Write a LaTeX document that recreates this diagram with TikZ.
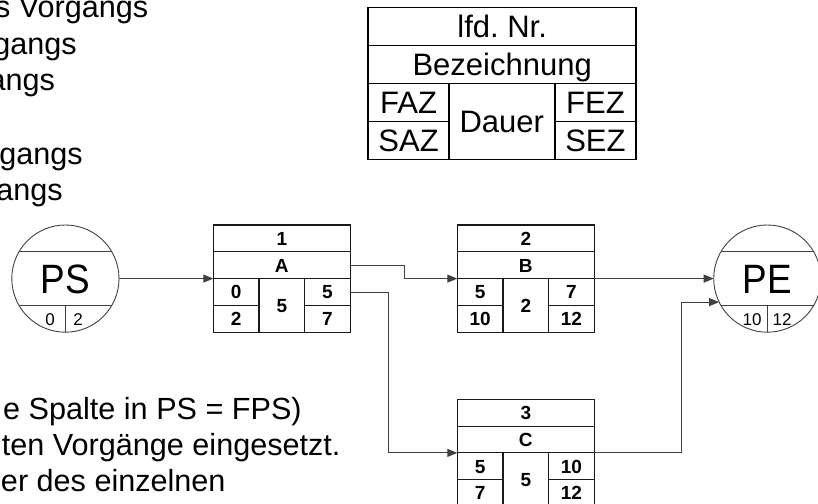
\documentclass[tikz,border=0pt]{standalone}
\usepackage{fontspec}
\setmainfont{Liberation Sans}
\newfontfamily\bigfont{Liberation Sans}[FakeStretch=0.9]
\usetikzlibrary{arrows.meta,calc}
\newcommand{\vgbox}[9]{%
  \node[cell, minimum width=137pt, anchor=north west] (#1-nr) at (#2) {#3};
  \node[cell, minimum width=137pt, anchor=north west] (#1-bez) at (#1-nr.south west) {#4};
  \node[cell, minimum width=45.67pt, anchor=north west] (#1-faz) at (#1-bez.south west) {#5};
  \node[cell, minimum width=45.67pt, minimum height=53.6pt, anchor=north west] (#1-dauer) at (#1-faz.north east) {#6};
  \node[cell, minimum width=45.67pt, anchor=north west] (#1-fez) at (#1-dauer.north east) {#7};
  \node[cell, minimum width=45.67pt, anchor=north west] (#1-saz) at (#1-faz.south west) {#8};
  \node[cell, minimum width=45.67pt, anchor=north west] (#1-sez) at (#1-fez.south west) {#9};
}
\begin{document}
\frenchspacing
\begin{tikzpicture}[x=1pt,y=-1pt,
  txt/.style={font=\fontsize{30.6}{36.8}\selectfont, inner sep=0, outer sep=0, anchor=base east},
  txtl/.style={font=\fontsize{30.6}{36.8}\selectfont, inner sep=0, outer sep=0, anchor=base west},
  cell/.style={draw=black!90, line width=1.1pt, inner sep=0, outer sep=0,
    font=\fontsize{19}{21}\selectfont\bfseries, text height=13.6pt, text depth=0pt,
    minimum height=26.8pt},
  leg/.style={draw=black, line width=1.9pt, inner sep=0, outer sep=0,
    font=\fontsize{31}{34}\selectfont, text height=22.2pt, text depth=0pt,
    minimum height=38pt},
  conn/.style={draw=black!75, line width=0.9pt, -{Triangle[length=10pt,width=8pt]}},
  ring/.style={circle, draw=black!75, line width=0.9pt, minimum size=107.2pt,
    inner sep=0, outer sep=0},
  ringline/.style={draw=black!75, line width=0.9pt},
  big/.style={font=\bigfont\fontsize{41}{44}\selectfont, inner sep=0, text height=29.4pt, text depth=0pt},
  small/.style={font=\fontsize{17}{19}\selectfont, inner sep=0, text height=12.2pt, text depth=0pt}
]
\useasboundingbox (0,0) rectangle (818,503);
\clip (0,0) rectangle (818,503);

% left text fragments
\node[txt] (t1) at (148.3,18) {s Vorgangs};
\node[txt] (t2) at (76.7,54.5) {gangs};
\node[txt] (t3) at (55,90.5) {angs};
\node[txt] (t5) at (82.7,164) {gangs};
\node[txt] (t6) at (62.7,200.5) {angs};
\node[txt] (t7) at (301.7,419.5) {e Spalte in PS = FPS)};
\node[txt] (t8) at (340.5,455.5) {ten Vorgänge eingesetzt.};
\node[txtl] (t9) at (1,491.5) {er des einzelnen};

% legend
\node[leg, minimum width=267.7pt, anchor=north west] (L-nr) at (368.3,7.5) {lfd. Nr.};
\node[leg, minimum width=267.7pt, anchor=north west] (L-bez) at (L-nr.south west) {Bezeichnung};
\node[leg, minimum width=80.5pt, anchor=north west] (L-faz) at (L-bez.south west) {FAZ};
\node[leg, minimum width=106pt, minimum height=76pt, anchor=north west] (L-dauer) at (L-faz.north east) {Dauer};
\node[leg, minimum width=81.2pt, anchor=north west] (L-fez) at (L-dauer.north east) {FEZ};
\node[leg, minimum width=80.5pt, anchor=north west] (L-saz) at (L-faz.south west) {SAZ};
\node[leg, minimum width=81.2pt, anchor=north west] (L-sez) at (L-fez.south west) {SEZ};

% activity boxes
\vgbox{A}{213.3,225}{1}{A}{0}{5}{5}{2}{7}
\vgbox{B}{457.3,225}{2}{B}{5}{2}{7}{10}{12}
\vgbox{C}{457.3,399.3}{3}{C}{5}{5}{10}{7}{12}

% start and end events
\node[ring] (PS) at (65.4,278.6) {};
\draw[ringline] (PS.150) -- (PS.30);
\draw[ringline] (PS.210) -- (PS.-30);
\draw[ringline] (PS.south |- PS.-30) -- (PS.south);
\node[big] (PS-l) at (65.4,278.6) {PS};
\node[small] (PS-a) at (50,319) {0};
\node[small] (PS-b) at (78,319) {2};

\node[ring] (PE) at (767.3,278.6) {};
\draw[ringline] (PE.150) -- (PE.30);
\draw[ringline] (PE.210) -- (PE.-30);
\draw[ringline] (PE.south |- PE.-30) -- (PE.south);
\node[big] (PE-l) at (767.3,278.6) {PE};
\node[small] (PE-a) at (752,319) {10};
\node[small] (PE-b) at (782,319) {12};

% connectors
\coordinate (jAB) at (404.3,0);
\coordinate (jAC) at (388.3,0);
\coordinate (jCP) at (681.7,0);
\draw[conn] (A-bez.south west -| PS.east) -- (A-bez.south west);
\draw[conn] (A-bez.east) -- (A-bez.east -| jAB) |- (B-bez.south west);
\draw[conn] (A-fez.east) -- (A-fez.east -| jAC) |- (C-bez.south west);
\draw[conn] (B-bez.south east) -- (B-bez.south east -| PE.west);
\draw[conn] (C-bez.south east) -- (C-bez.south east -| jCP) |- (PE.206);
\end{tikzpicture}
\end{document}
